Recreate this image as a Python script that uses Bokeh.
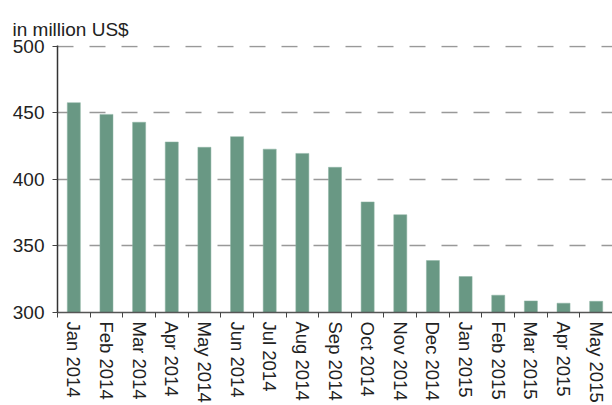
from bokeh.plotting import figure
from bokeh.models import FixedTicker, Range1d
from bokeh.embed import file_html
from bokeh.resources import INLINE

months = ["Jan 2014", "Feb 2014", "Mar 2014", "Apr 2014", "May 2014", "Jun 2014",
          "Jul 2014", "Aug 2014", "Sep 2014", "Oct 2014", "Nov 2014", "Dec 2014",
          "Jan 2015", "Feb 2015", "Mar 2015", "Apr 2015", "May 2015"]
values = [457.5, 448.7, 442.8, 428, 424, 432, 422.6, 419.4, 409,
          383, 373.4, 339, 327, 313, 308.7, 307, 308.4]
y_ticks = [300, 350, 400, 450, 500]
unit_label = "in million US$"

n = len(months)
centers = [i + 0.5 for i in range(n)]
bounds = list(range(n + 1))

FONT = "Liberation Sans"
FS = "19px"

p = figure(width=612, height=405, output_backend="svg", toolbar_location=None,
           x_range=Range1d(0, n), y_range=Range1d(300, 500.4),
           min_border_left=57, min_border_right=0, min_border_top=45, min_border_bottom=92)

p.title.text = unit_label
p.title.text_font = FONT
p.title.text_font_size = FS
p.title.text_font_style = "normal"
p.title.text_color = "#222222"
p.title.align = "left"
p.title.offset = -45
p.title.standoff = 12

p.vbar(x=centers, top=values, bottom=300, width=0.4,
       fill_color="#699884", line_color="#8fb5a4", line_width=0.5)

p.outline_line_color = None
p.xgrid.grid_line_color = None
p.ygrid.grid_line_color = "#999999"
p.ygrid.grid_line_dash = "16 16"
p.ygrid.grid_line_width = 1.5
p.ygrid.ticker = FixedTicker(ticks=y_ticks)

xa = p.xaxis[0]
xa.ticker = FixedTicker(ticks=centers, minor_ticks=bounds)
xa.major_label_overrides = {c: m for c, m in zip(centers, months)}
xa.major_label_orientation = "vertical"
xa.major_tick_line_color = None
xa.major_tick_out = 5
xa.minor_tick_line_color = "#444444"
xa.minor_tick_out = 5
xa.minor_tick_in = 0
xa.axis_line_color = "#555555"
xa.axis_line_width = 1.5
xa.major_label_text_font = FONT
xa.major_label_text_font_size = "18.5px"
xa.major_label_text_color = "#222222"
xa.major_label_standoff = 4

ya = p.yaxis[0]
ya.ticker = FixedTicker(ticks=y_ticks)
ya.minor_tick_line_color = None
ya.major_tick_out = 5
ya.major_tick_in = 0
ya.major_tick_line_color = "#444444"
ya.axis_line_color = "#333333"
ya.axis_line_width = 1.5
ya.major_label_text_font = FONT
ya.major_label_text_font_size = FS
ya.major_label_text_color = "#222222"
ya.major_label_standoff = 8

open("out.html", "w").write(file_html(p, INLINE))
